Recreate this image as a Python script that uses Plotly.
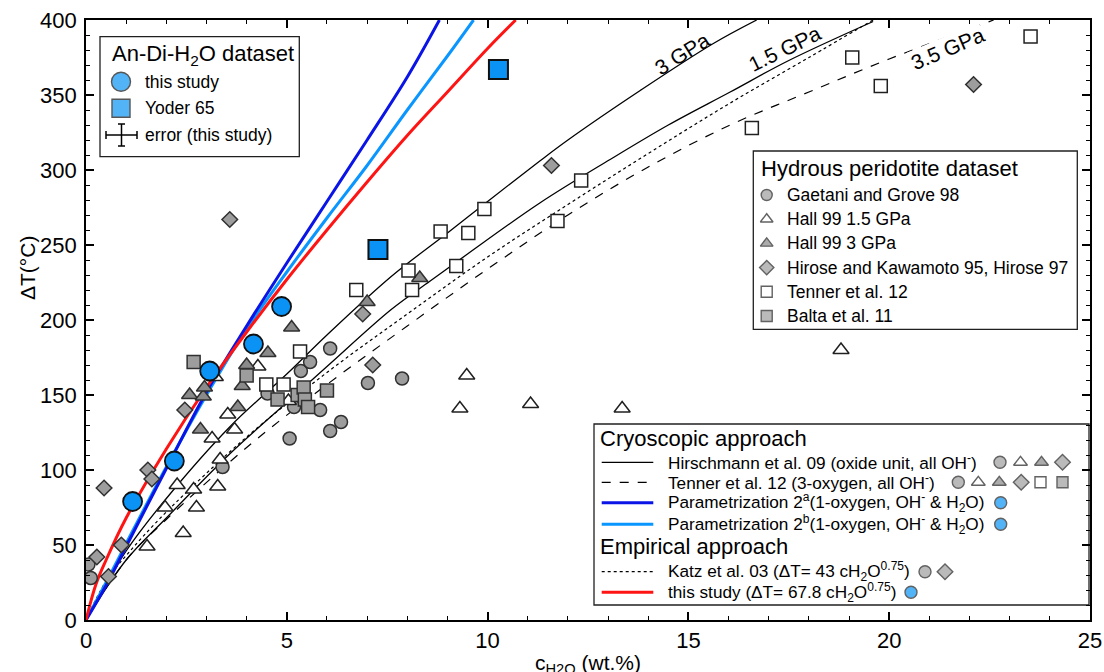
import plotly.graph_objects as go

# ---------------- data ----------------
this_study_c = [1.16, 2.2, 3.08, 4.17, 4.87]
this_study_T = [79, 106, 166, 184, 209]
yoder_c = [7.27, 10.27]
yoder_T = [247, 367]

gaetani_c = [0.06, 0.12, 3.40, 4.52, 5.07, 5.18, 5.35, 5.58, 5.83, 6.08, 6.08, 6.35, 7.02, 7.87]
gaetani_T = [37, 28, 102, 151, 121, 142, 166, 172, 140, 181, 126, 132, 158, 161]

hall15_c = [1.52, 1.97, 2.27, 2.42, 2.68, 2.75, 3.28, 3.34, 3.14, 3.53, 3.70, 4.28, 5.04, 3.22,
            9.31, 9.48, 11.07, 13.35, 18.8]
hall15_T = [49, 75, 90, 58, 87, 75, 89, 107, 121, 137, 127, 169, 146, 162,
            141, 163, 144, 141, 180]

hall30_c = [2.58, 2.92, 2.95, 2.85, 3.78, 3.89, 4.0, 4.53, 5.12, 7.0, 8.31]
hall30_T = [150, 149, 155, 127, 142, 156, 170, 178, 195, 212, 228]

hirose_c = [0.27, 0.45, 0.56, 0.88, 1.54, 1.64, 2.46, 3.58, 6.89, 7.14, 11.59, 22.1]
hirose_T = [42, 88, 29, 50, 100, 94, 140, 267, 204, 170, 303, 357]

tenner_c = [4.49, 4.92, 5.33, 6.73, 8.03, 8.12, 8.83, 9.22, 9.52, 9.92, 11.74, 12.33,
            16.58, 19.08, 19.79, 23.52]
tenner_T = [157, 157, 179, 220, 233, 220, 259, 236, 258, 274, 266, 293,
            328, 375, 356, 389]

balta_c = [2.68, 4.0, 4.77, 5.27, 5.42, 5.45, 5.53, 6.0]
balta_T = [172, 163, 147, 150, 155, 147, 142, 153]

# model curves
hir3_c = [0, 1, 2, 3.59, 5, 6, 7.6, 9, 10, 11.3, 12, 13.8, 15.6, 16.7]
hir3_T = [0, 46, 81, 129, 164, 190, 229, 258, 279, 306, 320, 353, 384, 400]
hir15_c = [0, 1, 2, 3.59, 5, 6, 7.6, 8.57, 9.5, 11.3, 13.05, 14.5, 16.04, 17.5, 19.6]
hir15_T = [0, 40, 68, 111, 145, 169, 207, 226, 244, 278, 307, 330, 352, 373, 399]
ten35_c = [0, 1, 2, 4, 6, 8, 10, 12, 14, 16.04, 18, 20, 22.6]
ten35_T = [0, 40, 67, 115, 157, 196, 234, 270, 302, 330, 352, 374, 400]
katz_c = [0, 0.5, 1, 2, 4, 6, 8, 10, 12, 14, 16, 18, 19.6]
katz_T = [0, 26, 43, 72, 122, 165, 204, 242, 277, 311, 344, 375, 400]
par2a_c = [0, 0.5, 1, 2, 3, 4, 5, 6, 7, 8, 8.8]
par2a_T = [0, 23, 49, 101, 152, 196, 238, 279, 320, 362, 400]
par2b_c = [0, 0.5, 1, 2, 3, 4, 5, 6, 7, 8, 9, 9.65]
par2b_T = [0, 25, 51, 102, 150, 194, 232, 268, 303, 340, 376, 400]
red_c = [0, 0.25, 0.5, 1, 2, 3, 4, 5, 6, 7, 8, 9, 10, 10.7]
red_T = [0, 24, 40, 68, 114, 155, 192, 227, 260, 292, 323, 352, 381, 400]

x_ticks = [0, 5, 10, 15, 20, 25]
y_ticks = [0, 50, 100, 150, 200, 250, 300, 350, 400]

# ---------------- styling ----------------
FONT = "Arial, Liberation Sans, sans-serif"
BLUE = "#0a93f5"
DBLUE = "#0a14e6"
LBLUE = "#0a96ff"
RED = "#ff1414"
GRAY = "#9d9d9d"
DGRAY = "#8a8a8a"
EDGE = "#303030"

fig = go.Figure()

def line(c, T, color, width, dash="solid"):
    fig.add_trace(go.Scatter(x=c, y=T, mode="lines", line=dict(color=color, width=width, dash=dash,
                                                               shape="spline", smoothing=1.0),
                             hoverinfo="skip", showlegend=False))

line(katz_c, katz_T, "black", 1.2, "dot")
line(ten35_c, ten35_T, "black", 1.2, "dash")
line(hir15_c, hir15_T, "black", 1.3)
line(hir3_c, hir3_T, "black", 1.3)
line(par2b_c, par2b_T, LBLUE, 3)
line(par2a_c, par2a_T, DBLUE, 3)
line(red_c, red_T, RED, 3)

def pts(c, T, symbol, size, fill, edge=EDGE, ew=1.5):
    fig.add_trace(go.Scatter(x=c, y=T, mode="markers",
                             marker=dict(symbol=symbol, size=size, color=fill,
                                         line=dict(color=edge, width=ew)),
                             showlegend=False))

pts(gaetani_c, gaetani_T, "circle", 13, GRAY)
pts(hall15_c, hall15_T, "triangle-up", 14, "white", "#202020")
pts(hall30_c, hall30_T, "triangle-up", 14, DGRAY)
pts(hirose_c, hirose_T, "diamond", 12, GRAY)
pts(tenner_c, tenner_T, "square", 13, "white", "#202020")
pts(balta_c, balta_T, "square", 13, GRAY)
pts(this_study_c, this_study_T, "circle", 19, BLUE, "#101010", 1.8)
pts(yoder_c, yoder_T, "square", 19, BLUE, "#101010", 2)

# ---------------- overlay axes in pixel coordinates for legends ----------------
X0, X1, Y0, Y1 = 86, 1090, 620, 20
shapes = []
annots = []

def box(x0, y0, x1, y1):
    shapes.append(dict(type="rect", xref="x2", yref="y2", x0=x0, y0=y0, x1=x1, y1=y1,
                       line=dict(color="#202020", width=1.3), fillcolor="white", layer="below"))

def seg(x0, y0, x1, y1, color="black", width=1.3, dash="solid"):
    shapes.append(dict(type="line", xref="x2", yref="y2", x0=x0, y0=y0, x1=x1, y1=y1,
                       line=dict(color=color, width=width, dash=dash)))

def text(x, y, s, size=16, anchor="left"):
    annots.append(dict(xref="x2", yref="y2", x=x, y=y, text=s, showarrow=False,
                       xanchor=anchor, yanchor="middle", font=dict(family=FONT, size=size, color="black")))

leg_x, leg_y, leg_sym, leg_size, leg_fill, leg_edge = [], [], [], [], [], []

def sym(x, y, symbol, size, fill, edge=EDGE):
    leg_x.append(x); leg_y.append(y); leg_sym.append(symbol)
    leg_size.append(size); leg_fill.append(fill); leg_edge.append(edge)

# Legend 1
box(100, 36.7, 299.3, 156.7)
text(202.5, 55, "An-Di-H<sub>2</sub>O dataset", 22, "center")
sym(121, 81.7, "circle", 19, BLUE, "#101010")
text(143, 81.7, "this study", 17.5)
sym(121, 108.3, "square", 18, BLUE, "#101010")
text(143, 108.3, "Yoder 65", 17.5)
seg(106, 135, 137, 135, width=1.5)
seg(121.5, 124, 121.5, 146, width=1.5)
seg(106, 131, 106, 139, width=1.5)
seg(137, 131, 137, 139, width=1.5)
seg(118, 124, 125, 124, width=1.5)
seg(118, 146, 125, 146, width=1.5)
text(143, 135, "error (this study)", 17.5)

# Legend 2
box(753.3, 151, 1077.3, 329.3)
text(759, 168.5, "Hydrous peridotite dataset", 22)
l2 = [("circle", GRAY, "Gaetani and Grove 98"),
      ("triangle-up", "white", "Hall 99 1.5 GPa"),
      ("triangle-up", DGRAY, "Hall 99 3 GPa"),
      ("diamond", GRAY, "Hirose and Kawamoto 95, Hirose 97"),
      ("square", "white", "Tenner et al. 12"),
      ("square", GRAY, "Balta et al. 11")]
for i, (s, f, t) in enumerate(l2):
    yy = 195 + i * 24.2
    sym(766.7, yy, s, 11, f, "#202020")
    text(785, yy, t, 17.5)

# Legend 3
box(594, 424, 1089, 605)
text(598, 438.5, "Cryoscopic approach", 22)
text(598, 546, "Empirical approach", 22)
rows = [
    (462.3, "black", 1.2, "solid", "Hirschmann et al. 09 (oxide unit, all OH<sup>-</sup>)",
     [(1000, "circle", GRAY), (1020.5, "triangle-up", "white"), (1041.5, "triangle-up", DGRAY),
      (1062.5, "diamond", GRAY)]),
    (482.3, "black", 1.2, "dash", "Tenner et al. 12 (3-oxygen, all OH<sup>-</sup>)",
     [(958.3, "circle", GRAY), (978.3, "triangle-up", "white"), (999.3, "triangle-up", DGRAY),
      (1021.2, "diamond", GRAY), (1040.5, "square", "white"), (1062.5, "square", GRAY)]),
    (502.8, DBLUE, 3, "solid", "Parametrization 2<sup>a</sup>(1-oxygen, OH<sup>-</sup> &amp; H<sub>2</sub>O)",
     [(1000.7, "circle", BLUE)]),
    (524.3, LBLUE, 3, "solid", "Parametrization 2<sup>b</sup>(1-oxygen, OH<sup>-</sup> &amp; H<sub>2</sub>O)",
     [(1000.7, "circle", BLUE)]),
    (571.7, "black", 1.2, "dot", "Katz et al. 03 (ΔT= 43 cH<sub>2</sub>O<sup>0.75</sup>)",
     [(925, "circle", GRAY), (945, "diamond", GRAY)]),
    (592.3, RED, 3, "solid", "this study (ΔT= 67.8 cH<sub>2</sub>O<sup>0.75</sup>)",
     [(911, "circle", BLUE)]),
]
for yy, col, w, d, t, syms in rows:
    seg(601.7, yy, 653.3, yy, col, w, d)
    text(666, yy, t, 17.2)
    for (sx, s, f) in syms:
        sym(sx, yy, s, 12 if s != "square" else 11, f, "#202020")

fig.add_trace(go.Scatter(x=leg_x, y=leg_y, mode="markers", xaxis="x2", yaxis="y2",
                         marker=dict(symbol=leg_sym, size=leg_size, color=leg_fill,
                                     line=dict(color=leg_edge, width=1.4)),
                         hoverinfo="skip", showlegend=False))

# curve labels
for c, T, s, ang in [(14.85, 378, "3 GPa", -32), (17.4, 381, "1.5 GPa", -26),
                     (21.46, 381, "3.5 GPa", -23)]:
    annots.append(dict(xref="x", yref="y", x=c, y=T, text=s, showarrow=False, textangle=ang,
                       font=dict(family=FONT, size=21, color="black"),
                       bgcolor="white" if s == "3.5 GPa" else "rgba(0,0,0,0)", borderpad=0))

# axis titles
annots.append(dict(xref="paper", yref="paper", x=(588 - 86) / 1004, y=-(664 - 620) / 600,
                   text="c<sub>H2O</sub> (wt.%)", showarrow=False, xanchor="center", yanchor="middle",
                   font=dict(family=FONT, size=21, color="black")))
annots.append(dict(xref="paper", yref="paper", x=-(86 - 27) / 1004, y=(620 - 268) / 600,
                   text="ΔT(°C)", textangle=-90, showarrow=False, xanchor="center", yanchor="middle",
                   font=dict(family=FONT, size=21, color="black")))

axis_common = dict(showgrid=False, zeroline=False, showline=True, linecolor="black", linewidth=1.8,
                   mirror="allticks", ticks="inside", ticklen=8, tickwidth=1.5, tickcolor="black",
                   automargin=False,
                   tickfont=dict(family=FONT, size=22, color="black"))
fig.update_layout(
    width=1104, height=672,
    margin=dict(l=86, r=14, t=20, b=52, autoexpand=False),
    paper_bgcolor="white", plot_bgcolor="white",
    showlegend=False,
    xaxis=dict(range=[0, 25], tickvals=x_ticks, ticktext=[str(v) for v in x_ticks],
               minor=dict(dtick=1, ticks="inside", ticklen=4, tickwidth=1.3, tickcolor="black"),
               **axis_common),
    yaxis=dict(range=[0, 400], tickvals=y_ticks, ticktext=[str(v) for v in y_ticks],
               ticklabelstandoff=3,
               minor=dict(dtick=10, ticks="inside", ticklen=4, tickwidth=1.3, tickcolor="black"),
               **axis_common),
    xaxis2=dict(overlaying="x", range=[X0, X1], visible=False, fixedrange=True, automargin=False),
    yaxis2=dict(overlaying="y", range=[Y0, Y1], visible=False, fixedrange=True, automargin=False),
    shapes=shapes, annotations=annots,
    font=dict(family=FONT),
)

fig.write_html("out.html")
